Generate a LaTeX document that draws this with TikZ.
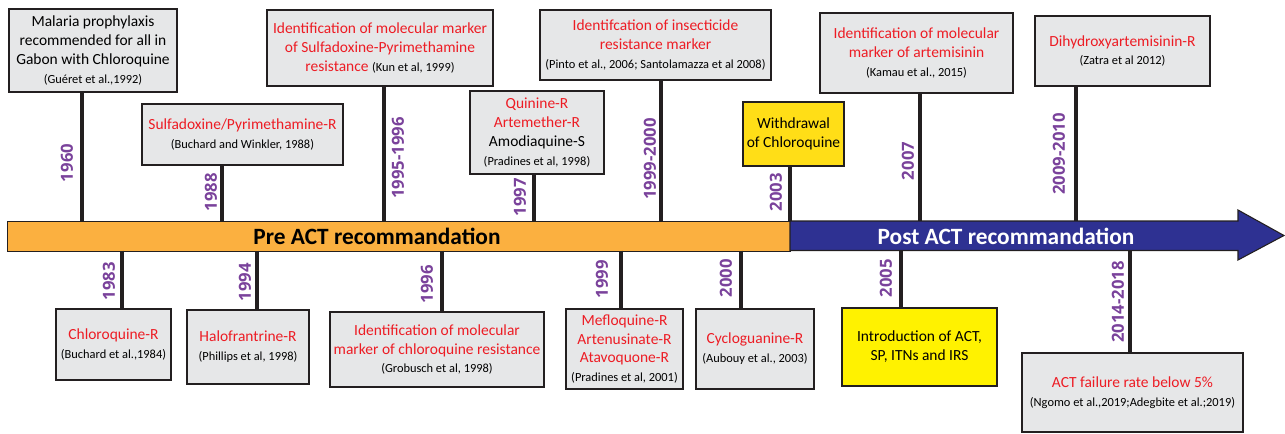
\documentclass[tikz,border=0pt]{standalone}
\usepackage{fontspec}
\setmainfont{Carlito}
\newfontfamily\yearfont{Open Sans}
\definecolor{boxgray}{RGB}{230,231,232}
\definecolor{boxline}{RGB}{35,31,32}
\definecolor{rtext}{RGB}{237,28,36}
\definecolor{yrpurple}{RGB}{122,66,155}
\definecolor{barorange}{RGB}{251,176,64}
\definecolor{barblue}{RGB}{46,49,146}
\definecolor{ygold}{RGB}{255,222,23}
\definecolor{ybright}{RGB}{255,242,0}
\newcommand{\refx}[1]{{\fontsize{9.3}{12}\selectfont #1}}
\newcommand{\rd}[1]{\textcolor{rtext}{#1}}
\tikzset{
  evbox/.style={draw=boxline, line width=1.5pt, fill=boxgray, align=center, inner sep=0pt,
    font=\fontsize{11.6}{14.2}\selectfont},
  sz/.style 2 args={minimum width={#1*0.75pt}, minimum height={#2*0.75pt}},
  stem/.style={line width=2.8pt, draw=boxline},
  yr/.style={rotate=90, text=yrpurple, inner sep=0pt,
    font=\yearfont\bfseries\fontsize{12.5}{14}\selectfont},
  bartext/.style={inner sep=0pt, font=\bfseries\fontsize{17.5}{19}\selectfont},
}
\begin{document}
\begin{tikzpicture}[x=0.75pt,y=-0.75pt]
\useasboundingbox (0,0) rectangle (1285,433);
% bar
\node[draw=boxline, line width=0.8pt, fill=barorange, anchor=north west, inner sep=0pt, sz={783}{29.5}] (prebar) at (7,221) {};
\draw[draw=boxline, line width=0.8pt, fill=barblue] (790,221) -- (1238,221) -- (1238,210) -- (1284,235.5) -- (1238,260) -- (1238,250.5) -- (790,250.5) -- cycle;
\node[bartext] (pretext) at (377,236) {Pre ACT recommandation};
\node[bartext, text=white] (posttext) at (1006,236) {Post ACT recommandation};
\coordinate (bartop) at (0,221);
\coordinate (barbot) at (0,250.5);
% top boxes
\node[evbox, sz={168}{83}] (T1) at (93,50.5) {Malaria prophylaxis\\recommended for all in\\Gabon with Chloroquine\\\refx{(Guéret et al.,1992)}};
\node[evbox, sz={201}{61}] (T2) at (242.5,134.5) {\rd{Sulfadoxine/Pyrimethamine-R}\\\refx{(Buchard and Winkler, 1988)}};
\node[evbox, sz={226}{76}] (T3) at (380,48) {\rd{Identification of molecular marker}\\\rd{of Sulfadoxine-Pyrimethamine}\\\rd{resistance} \refx{(Kun et al, 1999)}};
\node[evbox, sz={134}{83}] (T4) at (537,132.5) {\rd{Quinine-R}\\\rd{Artemether-R}\\Amodiaquine-S\\\refx{(Pradines et al, 1998)}};
\node[evbox, sz={231}{70}] (T5) at (655.5,45) {\rd{Identifcation of insecticide}\\\rd{resistance marker}\\\refx{(Pinto et al., 2006; Santolamazza et al 2008)}};
\node[evbox, sz={101}{64}, fill=ygold] (T6) at (793.5,134) {Withdrawal\\of Chloroquine};
\node[evbox, sz={193}{80}] (T7) at (916.5,53) {\rd{Identification of molecular}\\\rd{marker of artemisinin}\\\refx{(Kamau et al., 2015)}};
\node[evbox, sz={175}{70}] (T8) at (1122.5,51) {\rd{Dihydroxyartemisinin-R}\\\refx{(Zatra et al 2012)}};
% bottom boxes
\node[evbox, sz={115}{71}] (B1) at (113.5,344.5) {\rd{Chloroquine-R}\\\refx{(Buchard et al.,1984)}};
\node[evbox, sz={122}{74}] (B2) at (248,347) {\rd{Halofrantrine-R}\\\refx{(Phillips et al, 1998)}};
\node[evbox, sz={214}{75}] (B3) at (437,349.5) {\rd{Identification of molecular}\\\rd{marker of chloroquine resistance}\\\refx{(Grobusch et al, 1998)}};
\node[evbox, sz={117}{80}] (B4) at (624.5,349) {\rd{Mefloquine-R}\\\rd{Artenusinate-R}\\\rd{Atavoquone-R}\\\refx{(Pradines et al, 2001)}};
\node[evbox, sz={118}{80}] (B5) at (755,349) {\rd{Cycloguanine-R}\\\refx{(Aubouy et al., 2003)}};
\node[evbox, sz={155}{78}, fill=ybright] (B6) at (919.5,347) {Introduction of ACT,\\SP, ITNs and IRS};
\node[evbox, sz={221}{79}] (B7) at (1132.5,392.5) {\rd{ACT failure rate below 5\%}\\\refx{(Ngomo et al.,2019;Adegbite et al.;2019)}};
% stem coordinates
\coordinate (s1960) at (82,0);
\coordinate (s1988) at (222,0);
\coordinate (s1995) at (384,0);
\coordinate (s1997) at (534,0);
\coordinate (s1999t) at (661,0);
\coordinate (s2003) at (790,0);
\coordinate (s2007) at (920,0);
\coordinate (s2009) at (1076,0);
\coordinate (s1983) at (122,0);
\coordinate (s1994) at (257,0);
\coordinate (s1996) at (442,0);
\coordinate (s1999) at (621,0);
\coordinate (s2000) at (741,0);
\coordinate (s2005) at (901,0);
\coordinate (s2014) at (1130,0);
% stems top
\foreach \b/\s in {T1/s1960,T2/s1988,T3/s1995,T4/s1997,T5/s1999t,T6/s2003,T7/s2007,T8/s2009}
  \draw[stem] (\b.south -| \s) -- (bartop -| \s);
\foreach \b/\s in {B1/s1983,B2/s1994,B3/s1996,B4/s1999,B5/s2000,B6/s2005,B7/s2014}
  \draw[stem] (barbot -| \s) -- (\b.north -| \s);
% years
\node[yr] (y1960) at (67,163) {1960};
\node[yr] (y1988) at (211,192) {1988};
\node[yr] (y1995) at (398,158) {1995-1996};
\node[yr] (y1997) at (520,197) {1997};
\node[yr] (y1999t) at (650,159) {1999-2000};
\node[yr] (y2003) at (776,192) {2003};
\node[yr] (y2007) at (908,161) {2007};
\node[yr] (y2009) at (1059,154) {2009-2010};
\node[yr] (y1983) at (109,281) {1983};
\node[yr] (y1994) at (245,282) {1994};
\node[yr] (y1996) at (427,284) {1996};
\node[yr] (y1999) at (602,279) {1999};
\node[yr] (y2000) at (726,278) {2000};
\node[yr] (y2005) at (886,278) {2005};
\node[yr] (y2014) at (1118,302) {2014-2018};
\end{tikzpicture}
\end{document}
